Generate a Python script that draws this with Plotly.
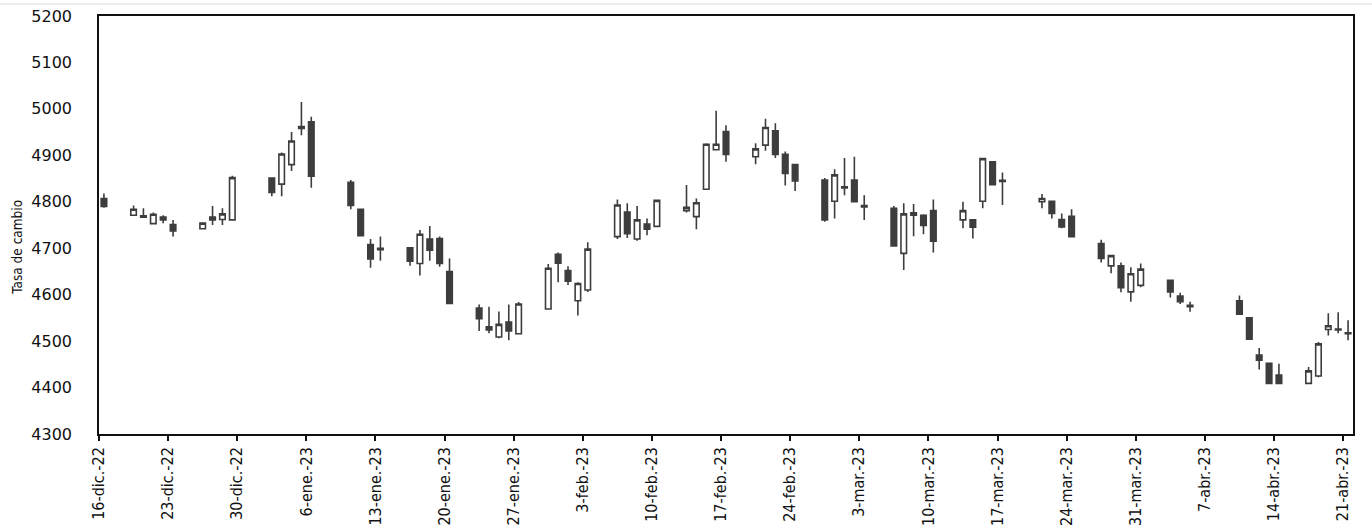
import pandas as pd
import plotly.graph_objects as go

dates = ["2022-12-16", "2022-12-19", "2022-12-20", "2022-12-21", "2022-12-22", "2022-12-23",
         "2022-12-26", "2022-12-27", "2022-12-28", "2022-12-29",
         "2023-01-02", "2023-01-03", "2023-01-04", "2023-01-05", "2023-01-06",
         "2023-01-10", "2023-01-11", "2023-01-12", "2023-01-13",
         "2023-01-16", "2023-01-17", "2023-01-18", "2023-01-19", "2023-01-20",
         "2023-01-23", "2023-01-24", "2023-01-25", "2023-01-26", "2023-01-27",
         "2023-01-30", "2023-01-31", "2023-02-01", "2023-02-02", "2023-02-03",
         "2023-02-06", "2023-02-07", "2023-02-08", "2023-02-09", "2023-02-10",
         "2023-02-13", "2023-02-14", "2023-02-15", "2023-02-16", "2023-02-17",
         "2023-02-20", "2023-02-21", "2023-02-22", "2023-02-23", "2023-02-24",
         "2023-02-27", "2023-02-28", "2023-03-01", "2023-03-02", "2023-03-03",
         "2023-03-06", "2023-03-07", "2023-03-08", "2023-03-09", "2023-03-10",
         "2023-03-13", "2023-03-14", "2023-03-15", "2023-03-16", "2023-03-17",
         "2023-03-21", "2023-03-22", "2023-03-23", "2023-03-24",
         "2023-03-27", "2023-03-28", "2023-03-29", "2023-03-30", "2023-03-31",
         "2023-04-03", "2023-04-04", "2023-04-05",
         "2023-04-10", "2023-04-11", "2023-04-12", "2023-04-13", "2023-04-14",
         "2023-04-17", "2023-04-18", "2023-04-19", "2023-04-20", "2023-04-21"]

open_ = [4807, 4771, 4770, 4753, 4761, 4751,
         4742, 4761, 4762, 4761,
         4851, 4838, 4880, 4958, 4972,
         4842, 4784, 4708, 4700,
         4701, 4667, 4720, 4721, 4650,
         4571, 4531, 4509, 4541, 4516,
         4569, 4687, 4652, 4587, 4610,
         4725, 4778, 4720, 4752, 4747,
         4781, 4768, 4827, 4912, 4951,
         4897, 4922, 4953, 4902, 4880,
         4847, 4801, 4830, 4847, 4792,
         4786, 4689, 4771, 4771, 4781,
         4761, 4761, 4801, 4886, 4846,
         4800, 4801, 4762, 4769,
         4710, 4662, 4662, 4606, 4620,
         4631, 4597, 4577,
         4587, 4550, 4470, 4452, 4427,
         4409, 4425, 4525, 4526, 4518]

high = [4818, 4792, 4786, 4777, 4771, 4761,
        4755, 4791, 4786, 4856,
        4852, 4906, 4950, 5015, 4983,
        4847, 4785, 4720, 4725,
        4702, 4739, 4748, 4725, 4678,
        4579, 4574, 4564, 4579, 4584,
        4666, 4691, 4661, 4627, 4713,
        4805, 4797, 4791, 4764, 4804,
        4836, 4807, 4926, 4996, 4965,
        4926, 4979, 4969, 4908, 4881,
        4851, 4870, 4894, 4897, 4814,
        4791, 4797, 4795, 4773, 4805,
        4800, 4762, 4894, 4887, 4863,
        4817, 4802, 4775, 4784,
        4718, 4685, 4669, 4659, 4667,
        4632, 4604, 4585,
        4598, 4551, 4485, 4453, 4451,
        4444, 4498, 4560, 4562, 4545]

low = [4787, 4770, 4765, 4752, 4754, 4725,
       4741, 4750, 4750, 4760,
       4812, 4812, 4866, 4943, 4830,
       4784, 4725, 4658, 4673,
       4662, 4641, 4673, 4660, 4580,
       4522, 4517, 4506, 4502, 4515,
       4569, 4627, 4621, 4555, 4606,
       4720, 4722, 4716, 4728, 4746,
       4777, 4741, 4826, 4911, 4886,
       4881, 4910, 4894, 4835, 4823,
       4757, 4764, 4814, 4799, 4761,
       4703, 4653, 4726, 4730, 4691,
       4743, 4721, 4786, 4836, 4793,
       4786, 4764, 4743, 4724,
       4669, 4646, 4605, 4585, 4616,
       4594, 4580, 4563,
       4556, 4503, 4439, 4408, 4408,
       4408, 4422, 4512, 4517, 4502]

close = [4790, 4784, 4767, 4773, 4767, 4737,
         4754, 4767, 4774, 4852,
         4820, 4903, 4931, 4962, 4855,
         4792, 4727, 4677, 4697,
         4672, 4730, 4696, 4667, 4581,
         4548, 4524, 4536, 4522, 4580,
         4657, 4668, 4629, 4624, 4698,
         4793, 4731, 4761, 4741, 4803,
         4788, 4798, 4924, 4924, 4902,
         4914, 4960, 4902, 4861, 4845,
         4761, 4858, 4832, 4800, 4789,
         4705, 4774, 4776, 4749, 4715,
         4781, 4745, 4893, 4837, 4844,
         4807, 4775, 4746, 4725,
         4678, 4684, 4615, 4645, 4655,
         4606, 4585, 4574,
         4558, 4504, 4459, 4409, 4409,
         4436, 4494, 4533, 4524, 4516]

tick_dates = ["2022-12-16", "2022-12-23", "2022-12-30", "2023-01-06", "2023-01-13",
              "2023-01-20", "2023-01-27", "2023-02-03", "2023-02-10", "2023-02-17",
              "2023-02-24", "2023-03-03", "2023-03-10", "2023-03-17", "2023-03-24",
              "2023-03-31", "2023-04-07", "2023-04-14", "2023-04-21"]
tick_labels = ["16-dic.-22", "23-dic.-22", "30-dic.-22", "6-ene.-23", "13-ene.-23",
               "20-ene.-23", "27-ene.-23", "3-feb.-23", "10-feb.-23", "17-feb.-23",
               "24-feb.-23", "3-mar.-23", "10-mar.-23", "17-mar.-23", "24-mar.-23",
               "31-mar.-23", "7-abr.-23", "14-abr.-23", "21-abr.-23"]

y_title = "Tasa de cambio"

# candles centred within each day slot
x_pos = pd.to_datetime(dates) + pd.Timedelta(hours=12)

DARK = "#3d3d3d"

fig = go.Figure(go.Candlestick(
    x=x_pos, open=open_, high=high, low=low, close=close,
    increasing=dict(fillcolor="white", line=dict(color=DARK, width=1.6)),
    decreasing=dict(fillcolor=DARK, line=dict(color=DARK, width=1.6)),
    whiskerwidth=0, showlegend=False,
))

fig.update_layout(
    width=1372, height=529,
    margin=dict(l=99, r=19, t=16, b=95),
    paper_bgcolor="white", plot_bgcolor="white",
    boxgap=0.2,
    xaxis=dict(
        type="date", automargin=False,
        range=["2022-12-16", "2023-04-22"],
        rangeslider=dict(visible=False),
        tickmode="array", tickvals=tick_dates, ticktext=tick_labels,
        tickangle=-90,
        ticks="outside", ticklen=5, tickwidth=1.5, tickcolor="#111",
        showline=True, linecolor="#111", linewidth=1.5, mirror=True,
        showgrid=False, zeroline=False,
        tickfont=dict(family="DejaVu Sans Condensed, Liberation Sans Narrow, sans-serif", size=16, color="#111"),
    ),
    yaxis=dict(
        automargin=False,
        range=[4300, 5200], dtick=100, tick0=4300,
        ticks="", showline=True, linecolor="#111", linewidth=1.5, mirror=True,
        showgrid=False, zeroline=False,
        ticklabelstandoff=22,
        tickfont=dict(family="DejaVu Sans, Verdana, sans-serif", size=16, color="#111"),
    ),
    annotations=[dict(
        text=y_title, textangle=-90, showarrow=False,
        xref="paper", yref="paper", x=-0.065, y=0.447,
        xanchor="center", yanchor="middle",
        font=dict(family="DejaVu Sans Condensed, Liberation Sans Narrow, sans-serif", size=13.5, color="#111"),
    )],
    shapes=[dict(type="line", xref="paper", yref="paper", x0=-0.1, x1=1.1,
                 y0=1.0287, y1=1.0287, line=dict(color="#dddddd", width=1))],
)

fig.write_html("out.html", config={"displayModeBar": False},
               post_script="document.body.style.margin='0';")
